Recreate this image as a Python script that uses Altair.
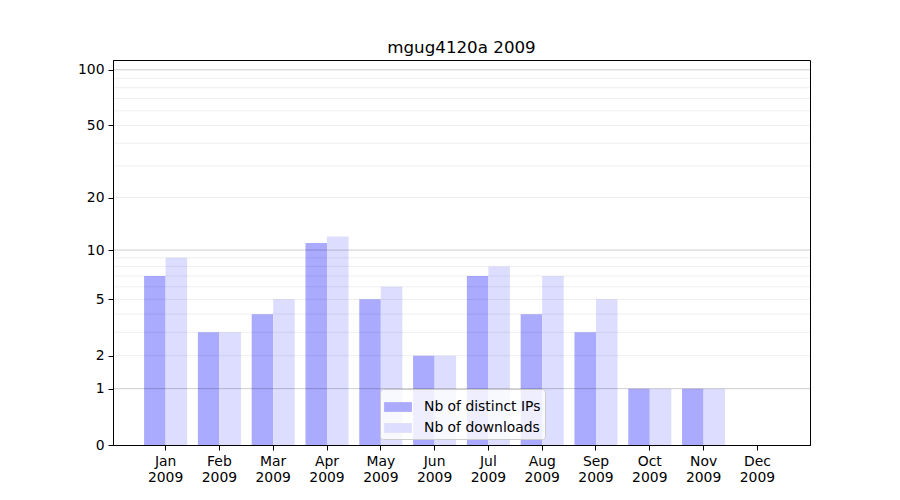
import altair as alt
import pandas as pd

months = ["Jan", "Feb", "Mar", "Apr", "May", "Jun", "Jul", "Aug", "Sep", "Oct", "Nov", "Dec"]
year = "2009"
distinct_ips = [7, 3, 4, 11, 5, 2, 7, 4, 3, 1, 1, 0]
downloads = [9, 3, 5, 12, 6, 2, 8, 7, 5, 1, 1, 0]
series_names = ["Nb of distinct IPs", "Nb of downloads"]
series_colors = ["#aaaaff", "#ddddff"]
y_ticks = [0, 1, 2, 5, 10, 20, 50, 100]
major_grid = [1, 10, 100]
minor_grid = [2, 3, 4, 5, 6, 7, 8, 9, 20, 30, 40, 50, 60, 70, 80, 90]

rows = []
for m, a, b in zip(months, distinct_ips, downloads):
    rows.append({"month": m, "series": series_names[0], "value": a})
    rows.append({"month": m, "series": series_names[1], "value": b})
df = pd.DataFrame(rows)

FONT = "DejaVu Sans"
yscale = alt.Scale(type="symlog", constant=1, domain=[0, 113], nice=False)
yaxis = alt.Axis(title=None, values=y_ticks, tickSize=5, tickColor="black",
                 domainColor="black", labelColor="black", labelFontSize=13.9,
                 labelFont=FONT, grid=False, labelPadding=4)

bars = alt.Chart(df).mark_bar(opacity=1).encode(
    x=alt.X("month:N", sort=months,
            scale=alt.Scale(paddingInner=0.2, paddingOuter=0.578),
            axis=alt.Axis(title=None, labelAngle=0, labelExpr="[datum.label, '" + year + "']",
                          labelLineHeight=16, labelPadding=4, tickSize=5, tickColor="black",
                          domainColor="black", labelColor="black", labelFontSize=13.9,
                          labelFont=FONT, grid=False)),
    xOffset=alt.XOffset("series:N", sort=series_names),
    y=alt.Y("value:Q", scale=yscale, axis=yaxis),
    color=alt.Color("series:N", sort=series_names,
                    scale=alt.Scale(domain=series_names, range=series_colors),
                    legend=alt.Legend(title=None, orient="none", legendX=267, legendY=329,
                                      fillColor="rgba(255,255,255,0.8)", strokeColor="#cccccc",
                                      cornerRadius=3, padding=4,
                                      symbolType="M-1,-0.35H1V0.35H-1Z", symbolSize=773,
                                      symbolStrokeWidth=0, symbolOpacity=1,
                                      labelFontSize=13.9, labelFont=FONT, labelColor="black",
                                      labelOffset=12, rowPadding=0)),
)

major = alt.Chart(pd.DataFrame({"v": major_grid})).mark_rule(color="black", opacity=0.2, strokeWidth=1).encode(
    y=alt.Y("v:Q", scale=yscale, axis=yaxis)
)
minor = alt.Chart(pd.DataFrame({"v": minor_grid})).mark_rule(color="black", opacity=0.07, strokeWidth=1).encode(
    y=alt.Y("v:Q", scale=yscale, axis=yaxis)
)

chart = alt.layer(bars, minor, major).properties(
    width=697, height=385,
    background="white",
    title=alt.TitleParams("mgug4120a " + year, font=FONT, fontSize=16.7, fontWeight="normal",
                          color="black", offset=3, anchor="middle"),
    autosize=alt.AutoSizeParams(type="none"),
    padding={"left": 105, "top": 52, "right": 60, "bottom": 44},
).configure_view(stroke="black", strokeWidth=1)

chart.save("out.html", embed_options={"renderer": "svg", "actions": False})
